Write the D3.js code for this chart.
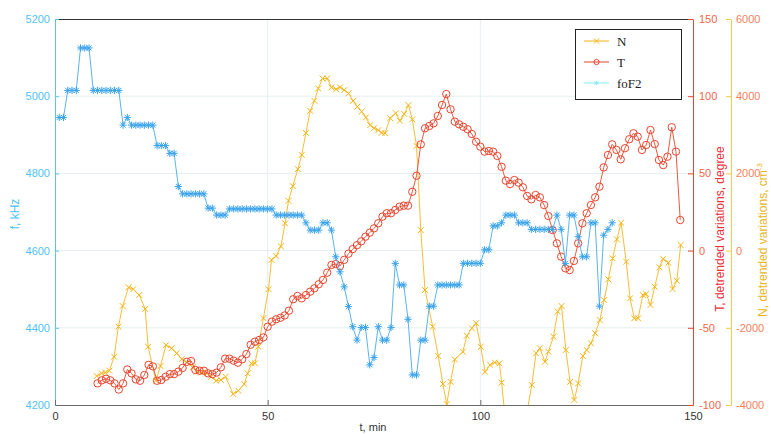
<!DOCTYPE html>
<html><head><meta charset="utf-8">
<script src="https://cdn.jsdelivr.net/npm/d3@7"></script>
<style>body{margin:0;background:#fff}svg{display:block}</style>
</head><body>
<svg id="chart" width="771" height="434"></svg>
<script>
// ---------- data ----------
const foF2Minutes = [
  1,2,3,4,5,6,7,8,9,10,
  11,12,13,14,15,16,17,18,19,20,
  21,22,23,24,25,26,27,28,29,30,
  31,32,33,34,35,36,37,38,39,40,
  41,42,43,44,45,46,47,48,49,50,
  51,52,53,54,55,56,57,58,59,60,
  61,62,63,64,65,66,67,68,69,70,
  71,72,73,74,75,76,77,78,79,80,
  81,82,83,84,85,86,87,88,89,90,
  91,92,93,94,95,96,97,98,99,100,
  101,102,103,104,105,106,107,108,109,110,
  111,112,113,114,115,116,117,118,119,120,
  121,122,123,124,125,126,127,128,129,130,131];
const foF2Values = [
  4945,4945,5015,5015,5015,5125,5125,5125,5015,5015,
  5015,5015,5015,5015,5015,4925,4945,4925,4925,4925,
  4925,4925,4925,4872,4872,4872,4852,4852,4766,4747,
  4747,4747,4747,4747,4747,4710,4710,4692,4692,4692,
  4708,4708,4708,4708,4708,4708,4708,4708,4708,4708,
  4708,4692,4692,4692,4692,4692,4692,4692,4672,4653,
  4653,4653,4672,4672,4653,4584,4545,4506,4455,4403,
  4368,4401,4401,4304,4323,4403,4368,4368,4401,4567,
  4511,4511,4422,4278,4278,4368,4368,4456,4456,4511,
  4511,4511,4511,4511,4511,4567,4567,4567,4567,4567,
  4602,4602,4664,4664,4672,4692,4692,4692,4672,4672,
  4672,4655,4655,4655,4655,4655,4655,4692,4655,4567,
  4692,4692,4636,4584,4584,4672,4672,4456,4640,4655,4672];

const tempMinutes = [
  10,11,12,13,14,15,16,17,18,19,
  20,21,22,23,24,25,26,27,28,29,
  30,31,32,33,34,35,36,37,38,39,
  40,41,42,43,44,45,46,47,48,49,
  50,51,52,53,54,55,56,57,58,59,
  60,61,62,63,64,65,66,67,68,69,
  70,71,72,73,74,75,76,77,78,79,
  80,81,82,83,84,85,86,87,88,89,
  90,91,92,93,94,95,96,97,98,99,
  100,101,102,103,104,105,106,107,108,109,
  110,111,112,113,114,115,116,117,118,119,
  120,121,122,123,124,125,126,127,128,129,
  130,131,132,133,134,135,136,137,138,139,
  140,141,142,143,144,145,146,147];
const tempValues = [
  -86,-84,-83,-84,-86,-90,-86,-77,-79.5,-83.4,
  -84.3,-80.6,-74,-75,-84.3,-83.8,-81.7,-80,-80,-78.4,
  -76,-72,-71.5,-77.3,-77.8,-77.8,-79.5,-80,-79,-75.6,
  -70,-70,-71.3,-72.6,-70.4,-67,-61,-59,-57.9,-56.2,
  -49.3,-46,-44.5,-43.5,-42,-38.9,-31.5,-29.4,-30.9,-28.8,
  -26.6,-24.4,-21.8,-19,-14.3,-9.3,-8.7,-10,-6,-2,
  1,3.5,6,9,11.6,14.4,17.7,22,24.2,24.2,
  26.3,28.4,29.1,29.1,38.1,48.5,68.8,79.2,80.7,82.4,
  87.2,94.3,101.4,91.5,83.5,81.8,80.2,78.6,75.5,70.5,
  67.3,64.1,64.5,64.1,61.3,54.3,45.3,43.1,45.7,44,
  41,35.4,33.2,36,34.5,29.5,22.4,13.3,4.7,-3.9,
  -11.5,-12.6,-6.7,4.7,17.7,24.2,29.5,34.5,41.4,53.9,
  61.9,68.8,65.2,59.1,66.3,72.1,76,73.8,65.2,68.4,
  78.1,69,58.7,55.4,60.8,79.9,64.1,19.8];

const densMinutes = [
  9.8,11.0,11.8,12.8,13.9,14.9,15.9,17.3,18.4,19.8,
  21.2,21.9,23.7,24.8,26.1,27.4,28.6,29.8,31.0,32.4,
  33.3,34.5,35.7,36.7,37.9,39.0,40.1,41.9,43.1,44.5,
  45.3,46.2,47.0,47.8,49.0,50.2,50.9,52.0,53.1,54.1,
  54.9,55.9,57.1,58.0,59.0,60.0,61.0,61.9,62.9,64.0,
  65.0,66.1,67.0,68.0,69.0,70.1,71.1,72.1,73.1,74.1,
  75.0,76.0,76.8,77.6,78.8,80.1,81.1,82.1,83.1,84.0,
  85.0,86.0,87.0,88.8,90.1,91.2,92.1,93.0,94.0,95.9,
  96.8,98.0,99.0,100.1,101.1,102.3,103.4,104.5,105.0,106.0,
  107.5,109.0,110.3,111.1,112.1,113.1,114.0,115.2,116.0,117.2,
  118.2,119.1,120.1,121.1,122.1,123.0,124.1,125.0,126.0,127.0,
  128.1,129.1,130.1,131.1,132.1,133.1,134.3,135.2,136.2,137.1,
  138.2,139.0,140.0,141.0,142.1,143.0,144.2,145.2,146.2,147.1];
const densValues = [
  -3250,-3180,-3160,-3110,-2750,-1970,-1435,-950,-1000,-1150,
  -1510,-2490,-3370,-2990,-2450,-2530,-2660,-2810,-2900,-3020,
  -3140,-3160,-3180,-3270,-3370,-3350,-3270,-3715,-3630,-3456,
  -3180,-2920,-2920,-2490,-1750,-1000,-240,-140,110,707,
  1290,1670,2110,2480,3050,3620,3880,4200,4460,4460,
  4230,4180,4230,4160,4075,3880,3730,3600,3450,3250,
  3170,3120,3050,3040,3430,3560,3365,3540,3770,3400,
  2710,530,-1020,-1970,-2730,-3456,-3975,-3400,-2820,-2620,
  -2210,-2010,-1880,-2490,-3140,-2960,-2900,-2920,-3420,-4500,
  -5300,-5400,-4800,-4100,-3480,-2660,-2530,-2880,-2620,-2230,
  -1580,-1435,-2575,-3400,-3870,-3440,-2730,-2575,-2400,-2140,
  -1800,-1280,-745,-200,293,723,-287,-1236,-1754,-1754,
  -1150,-1124,-1409,-935,-433,-218,-313,-995,-780,145];

const xTicks = [0, 50, 100, 150];
const fTicks = [4200, 4400, 4600, 4800, 5000, 5200];
const tTicks = [-100, -50, 0, 50, 100, 150];
const nTicks = [-4000, -2000, 0, 2000, 4000, 6000];
const legendLabels = ["N", "T", "foF2"];

// ---------- scales ----------
const L = 55, R = 693, T = 19, B = 405;
const x = d3.scaleLinear().domain([0, 150]).range([L, R]);
const yF = d3.scaleLinear().domain([4200, 5200]).range([B, T]);
const yT = d3.scaleLinear().domain([-100, 150]).range([B, T]);
const yN = d3.scaleLinear().domain([-4000, 6000]).range([B, T]);

const svg = d3.select("#chart");
const FONT = "'Liberation Sans', Arial, sans-serif";
const plain = d => String(d);

const COL_F = "#3aa3ec", COL_F_LINE = "#5ab4f0";
const COL_T = "#e8452f", COL_T_LINE = "#ea5a40";
const COL_N = "#f5b414", COL_N_LINE = "#f6be36";

// clip
svg.append("defs").append("clipPath").attr("id", "plotclip")
  .append("rect").attr("x", L).attr("y", T).attr("width", R - L).attr("height", B - T);

// grid
const grid = svg.append("g");
grid.selectAll("line.hg").data(fTicks.slice(1, -1)).join("line").attr("class", "hg")
  .attr("x1", L).attr("x2", R).attr("y1", d => yF(d)).attr("y2", d => yF(d))
  .attr("stroke", "#e4eff2").attr("stroke-width", 1);
grid.selectAll("line.vg").data(xTicks.slice(1, -1)).join("line").attr("class", "vg")
  .attr("y1", T).attr("y2", B).attr("x1", d => x(d)).attr("x2", d => x(d))
  .attr("stroke", "#e4eff2").attr("stroke-width", 1);

// markers
function asterisk(r) {
  const a = r * 0.72;
  return `M${-r},0L${r},0M0,${-r}L0,${r}M${-a},${-a}L${a},${a}M${-a},${a}L${a},${-a}`;
}
function cross(r) {
  return `M${-r},${-r}L${r},${r}M${-r},${r}L${r},${-r}`;
}

const plot = svg.append("g").attr("clip-path", "url(#plotclip)");

function drawSeries(times, vals, yScale, lineCol, markCol, kind) {
  const pts = d3.zip(times, vals);
  const line = d3.line().x(d => x(d[0])).y(d => yScale(d[1]));
  plot.append("path").datum(pts).attr("d", line)
    .attr("fill", "none").attr("stroke", lineCol).attr("stroke-width", 1);
  const g = plot.append("g");
  if (kind === "circle") {
    g.selectAll("circle").data(pts).join("circle")
      .attr("cx", d => x(d[0])).attr("cy", d => yScale(d[1])).attr("r", 3.7)
      .attr("fill", "none").attr("stroke", markCol).attr("stroke-width", 1);
  } else {
    const p = kind === "star" ? asterisk(3.6) : cross(2.9);
    g.selectAll("path").data(pts).join("path")
      .attr("transform", d => `translate(${x(d[0])},${yScale(d[1])})`)
      .attr("d", p).attr("fill", "none").attr("stroke", markCol).attr("stroke-width", 1);
  }
}

drawSeries(densMinutes, densValues, yN, COL_N_LINE, COL_N, "cross");
drawSeries(tempMinutes, tempValues, yT, COL_T_LINE, COL_T, "circle");
drawSeries(foF2Minutes, foF2Values, yF, COL_F_LINE, COL_F, "star");

// top frame
svg.append("line").attr("x1", L).attr("x2", R).attr("y1", T + 0.5).attr("y2", T + 0.5)
  .attr("stroke", "#333").attr("stroke-width", 1);

function styleAxis(g, lineCol, textCol, size) {
  g.attr("font-family", FONT).attr("font-size", size || 11);
  g.select(".domain").attr("stroke", lineCol);
  g.selectAll(".tick line").attr("stroke", lineCol);
  g.selectAll(".tick text").attr("fill", textCol);
}

// left axis (foF2)
const axL = svg.append("g").attr("transform", `translate(${L},0)`)
  .call(d3.axisLeft(yF).tickValues(fTicks).tickFormat(plain).tickSizeInner(-4).tickSizeOuter(0).tickPadding(5));
styleAxis(axL, "#62c0ef", "#52c2f2");

// bottom axis
const axB = svg.append("g").attr("transform", `translate(0,${B})`)
  .call(d3.axisBottom(x).tickValues(xTicks).tickFormat(plain).tickSizeInner(-5).tickSizeOuter(0).tickPadding(7));
styleAxis(axB, "#6a6a6a", "#333");

// right T axis
const axT = svg.append("g").attr("transform", `translate(${R},0)`)
  .call(d3.axisRight(yT).tickValues(tTicks).tickFormat(plain).tickSizeInner(-5).tickSizeOuter(0).tickPadding(6));
styleAxis(axT, "#e8452f", "#f2654b");

// right N axis
const axN = svg.append("g").attr("transform", `translate(731,0)`)
  .call(d3.axisRight(yN).tickValues(nTicks).tickFormat(plain).tickSizeInner(-5).tickSizeOuter(0).tickPadding(5));
styleAxis(axN, "#f7c94a", "#f47f5c");

// axis titles
svg.append("text").attr("transform", `translate(19,214) rotate(-90)`)
  .attr("text-anchor", "middle").attr("font-family", FONT).attr("font-size", 12)
  .attr("fill", "#52c2f2").text("f, kHz");
svg.append("text").attr("x", 373).attr("y", 431)
  .attr("text-anchor", "middle").attr("font-family", FONT).attr("font-size", 11)
  .attr("fill", "#333").text("t,  min");
svg.append("text").attr("transform", `translate(724,229) rotate(-90)`)
  .attr("text-anchor", "middle").attr("font-family", FONT).attr("font-size", 12)
  .attr("fill", "#e8303a").text("T, detrended variations, degree");
const nLab = svg.append("text").attr("transform", `translate(767,240) rotate(-90)`)
  .attr("text-anchor", "middle").attr("font-family", FONT).attr("font-size", 12)
  .attr("fill", "#e9b51c");
nLab.append("tspan").text("N, detrended variations, cm");
nLab.append("tspan").attr("dy", -5).attr("font-size", 8).text("-3");

// legend
const leg = svg.append("g");
leg.append("rect").attr("x", 575.5).attr("y", 29.5).attr("width", 106).attr("height", 70)
  .attr("fill", "#fff").attr("stroke", "#222").attr("stroke-width", 1);
const legCols = [COL_N, COL_T, "#86ecec"];
const legKinds = ["cross", "circle", "star"];
const legY = [41, 62, 83];
legendLabels.forEach((lab, i) => {
  const yy = legY[i];
  leg.append("line").attr("x1", 584).attr("x2", 609).attr("y1", yy).attr("y2", yy)
    .attr("stroke", legCols[i]).attr("stroke-width", 1);
  if (legKinds[i] === "circle") {
    leg.append("circle").attr("cx", 596.5).attr("cy", yy).attr("r", 2.6)
      .attr("fill", "none").attr("stroke", legCols[i]);
  } else {
    leg.append("path").attr("transform", `translate(596.5,${yy})`)
      .attr("d", legKinds[i] === "star" ? asterisk(2.2) : cross(2.6))
      .attr("fill", "none").attr("stroke", legCols[i]);
  }
  leg.append("text").attr("x", 617).attr("y", yy).attr("dy", "0.35em")
    .attr("font-family", "'Liberation Serif', 'Times New Roman', serif").attr("font-size", 13)
    .attr("fill", "#222").text(lab);
});
</script>
</body></html>
